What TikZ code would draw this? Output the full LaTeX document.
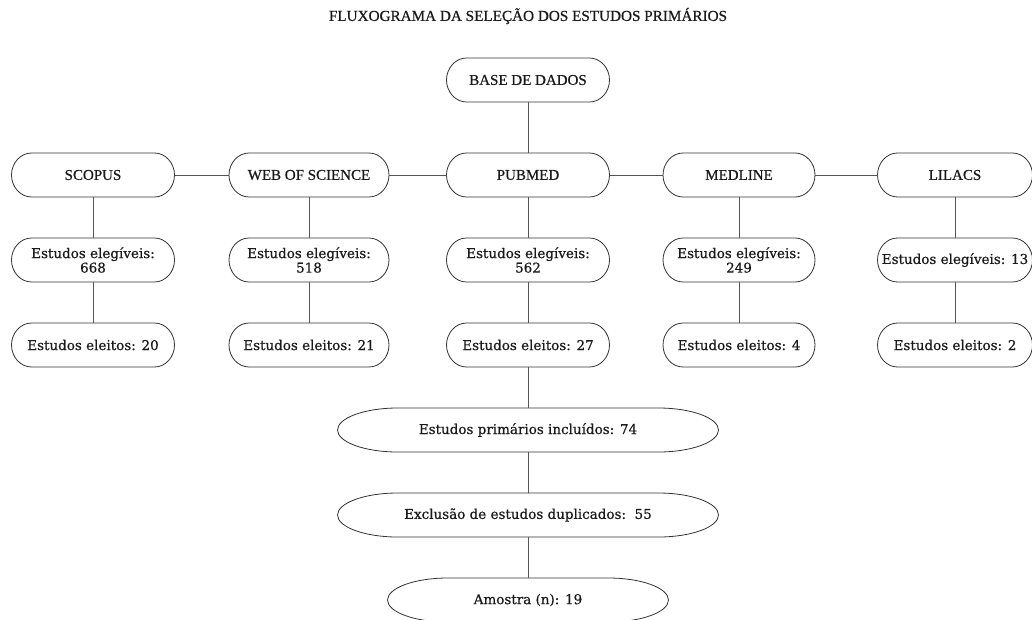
\documentclass[tikz,border=0pt]{standalone}
\usepackage{fontspec}
\setmainfont{DejaVu Serif}[FakeBold=0.6]
\newfontfamily\capsfont{Liberation Serif}[FakeBold=0.6]
\definecolor{txt}{HTML}{1A1A1A}
\definecolor{lc}{HTML}{555555}
\definecolor{oc}{HTML}{333333}
\newcommand\stad[2]{\draw[outl] ([xshift={-#2pt}]#1.north east) .. controls ([xshift={-0.45*#2pt}]#1.north east) and ([yshift=12pt]#1.east) .. (#1.east) .. controls ([yshift=-12pt]#1.east) and ([xshift={-0.45*#2pt}]#1.south east) .. ([xshift={-#2pt}]#1.south east) -- ([xshift={#2pt}]#1.south west) .. controls ([xshift={0.45*#2pt}]#1.south west) and ([yshift=-12pt]#1.west) .. (#1.west) .. controls ([yshift=12pt]#1.west) and ([xshift={0.45*#2pt}]#1.north west) .. ([xshift={#2pt}]#1.north west) -- cycle;}
\begin{document}
\begin{tikzpicture}[x=1pt,y=-1pt,
  box/.style={minimum height=44pt, inner sep=0pt, outer sep=0pt, text=txt, align=center, font=\fontsize{13.5}{14.5}\selectfont},
  capbox/.style={box, font=\capsfont\fontsize{15}{16}\selectfont},
  outl/.style={draw=oc, line width=0.8pt},
  link/.style={draw=lc, line width=0.9pt}]
\useasboundingbox (0,0) rectangle (1032,619);
\node[text=txt, font=\capsfont\fontsize{15.2}{16}\selectfont] (title) at (528,16) {FLUXOGRAMA DA SELEÇÃO DOS ESTUDOS PRIMÁRIOS};
% top
\node[capbox, minimum width=163pt] (base) at (528,80) {BASE DE DADOS};
\node[capbox, minimum width=163pt] (scopus) at (93,175) {SCOPUS};
\node[capbox, minimum width=160pt] (wos) at (309,175) {WEB OF SCIENCE};
\node[capbox, minimum width=163pt] (pubmed) at (528,175) {PUBMED};
\node[capbox, minimum width=152pt] (medline) at (739,175) {MEDLINE};
\node[capbox, minimum width=155pt] (lilacs) at (955,175) {LILACS};
% row 2
\node[box, minimum width=163pt] (e1) at (93,260) {Estudos elegíveis:\\668};
\node[box, minimum width=160pt] (e2) at (309,260) {Estudos elegíveis:\\518};
\node[box, minimum width=163pt] (e3) at (528,260) {Estudos elegíveis:\\562};
\node[box, minimum width=152pt] (e4) at (739,260) {Estudos elegíveis:\\249};
\node[box, minimum width=155pt] (e5) at (955,260) {Estudos elegíveis: 13};
% row 3
\node[box, minimum width=163pt] (f1) at (93,345) {Estudos eleitos: 20};
\node[box, minimum width=160pt] (f2) at (309,345) {Estudos eleitos: 21};
\node[box, minimum width=163pt] (f3) at (528,345) {Estudos eleitos: 27};
\node[box, minimum width=152pt] (f4) at (739,345) {Estudos eleitos: 4};
\node[box, minimum width=155pt] (f5) at (955,345) {Estudos eleitos: 2};
% bottom
\node[box, minimum width=381pt] (prim) at (528,430) {Estudos primários incluídos: 74};
\node[box, minimum width=381pt] (excl) at (528,515) {Exclusão de estudos duplicados:\ \ 55};
\node[box, minimum width=281pt] (amo) at (528,600) {Amostra (n): 19};
% outlines
\foreach \n in {base,scopus,wos,pubmed,medline,lilacs,e1,e2,e3,e4,e5,f1,f2,f3,f4,f5}{\stad{\n}{20}}
\foreach \n in {prim,excl,amo}{\stad{\n}{60}}
% connectors
\draw[link] (base.south) -- (pubmed.north);
\draw[link] (scopus.east) -- (wos.west);
\draw[link] (wos.east) -- (pubmed.west);
\draw[link] (pubmed.east) -- (medline.west);
\draw[link] (medline.east) -- (lilacs.west);
\draw[link] (scopus.south) -- (e1.north);
\draw[link] (wos.south) -- (e2.north);
\draw[link] (pubmed.south) -- (e3.north);
\draw[link] (medline.south) -- (e4.north);
\draw[link] (lilacs.south) -- (e5.north);
\draw[link] (e1.south) -- (f1.north);
\draw[link] (e2.south) -- (f2.north);
\draw[link] (e3.south) -- (f3.north);
\draw[link] (e4.south) -- (f4.north);
\draw[link] (e5.south) -- (f5.north);
\draw[link] (f3.south) -- (prim.north);
\draw[link] (prim.south) -- (excl.north);
\draw[link] (excl.south) -- (amo.north);
\end{tikzpicture}
\end{document}
